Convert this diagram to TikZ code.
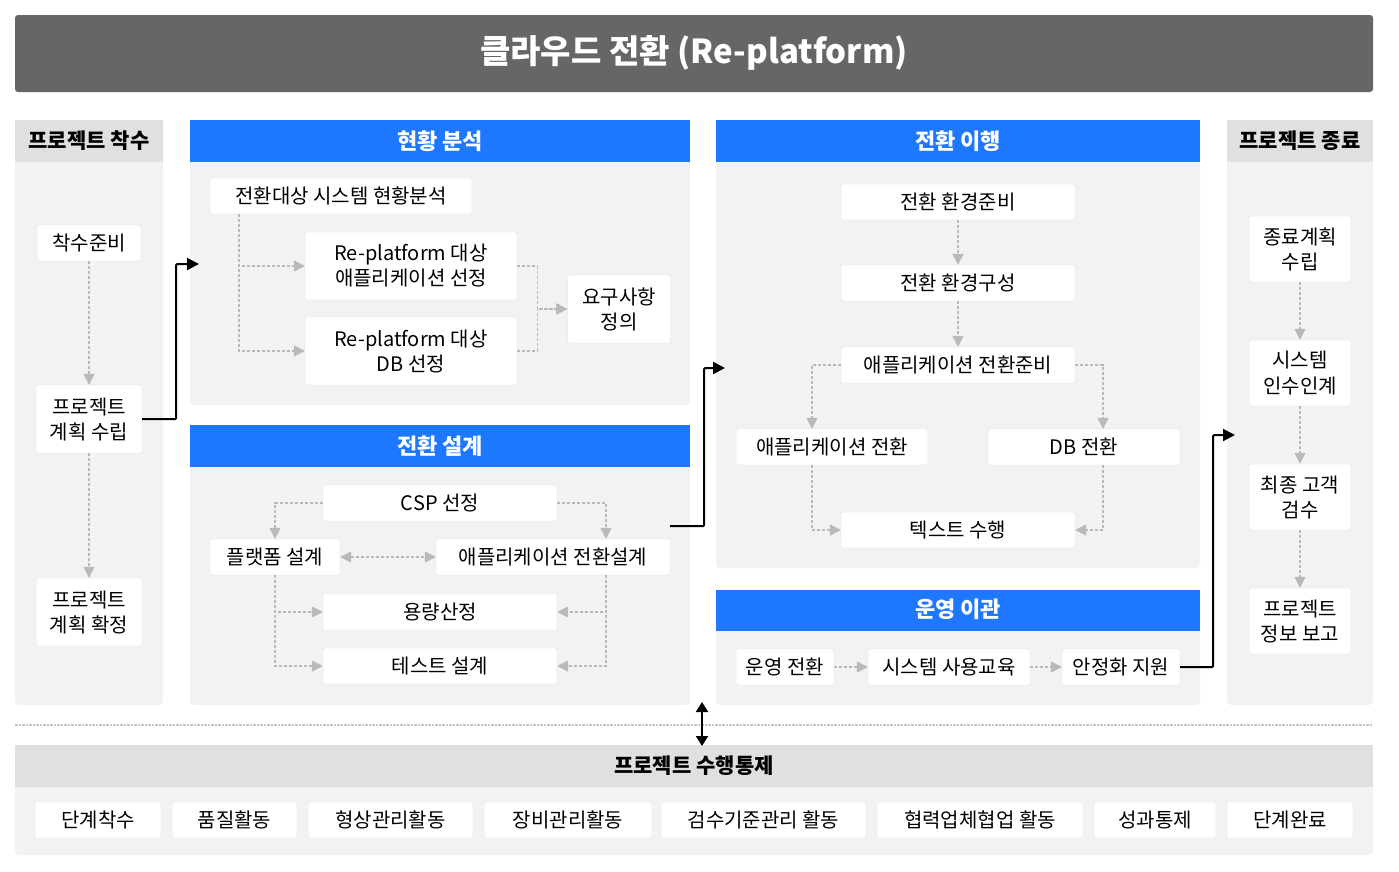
\documentclass[tikz,border=0pt]{standalone}
\usepackage{fontspec}
\setmainfont{Noto Sans CJK KR}
\usetikzlibrary{arrows.meta,positioning}
\definecolor{hdblue}{HTML}{1E78FF}
\definecolor{panelbg}{HTML}{F2F2F2}
\definecolor{hdgray}{HTML}{E0E0E0}
\definecolor{titlegray}{HTML}{666666}
\tikzset{
    box/.style={
        rectangle,
        draw=gray!25,
        fill=white,
        rounded corners=2,
        inner sep=0,
        minimum height=36,
        font=\fontsize{20}{25}\selectfont,
        align=center
    },
    conn/.style={
        draw=gray!55,
        densely dashed,
        line width=1.3,
        -{Triangle[width=11,length=11,fill=gray!55]}
    },
    flow/.style={
        draw=black,
        line width=2,
        -{Triangle[width=12,length=12]}
    },
    bluehead/.style={fill=hdblue},
    headtxt/.style={text=white, font=\fontsize{22}{26}\selectfont\bfseries},
    grayhead/.style={fill=hdgray},
    graytxt/.style={font=\fontsize{21}{26}\selectfont\bfseries}
}
\begin{document}
\begin{tikzpicture}[x=1pt,y=-1pt]
\useasboundingbox (0,0) rectangle (1399,871);
\fill[white] (0,0) rectangle (1399,871);

% title
\fill[titlegray, rounded corners=3] (15,15) rectangle (1373,92);
\node[text=white, font=\fontsize{33}{38}\selectfont\bfseries] (title) at (694,53) {클라우드 전환 (Re-platform)};

% panels
\fill[panelbg, rounded corners=4] (15,120) rectangle (163,705);
\fill[grayhead] (15,120) rectangle (163,162);
\node[graytxt] (h1) at (89,141) {프로젝트 착수};

\fill[panelbg, rounded corners=4] (190,120) rectangle (690,405);
\fill[bluehead] (190,120) rectangle (690,162);
\node[headtxt] (h2) at (440,141) {현황 분석};

\fill[panelbg, rounded corners=4] (190,425) rectangle (690,705);
\fill[bluehead] (190,425) rectangle (690,467);
\node[headtxt] (h3) at (440,446) {전환 설계};

\fill[panelbg, rounded corners=4] (716,120) rectangle (1200,568);
\fill[bluehead] (716,120) rectangle (1200,162);
\node[headtxt] (h4) at (958,141) {전환 이행};

\fill[panelbg, rounded corners=4] (716,590) rectangle (1200,705);
\fill[bluehead] (716,590) rectangle (1200,631);
\node[headtxt] (h5) at (958,609) {운영 이관};

\fill[panelbg, rounded corners=4] (1227,120) rectangle (1373,705);
\fill[grayhead] (1227,120) rectangle (1373,162);
\node[graytxt] (h6) at (1300,141) {프로젝트 종료};

\draw[gray!45, densely dotted, line width=2.5] (15,725) -- (1373,725);

\fill[panelbg, rounded corners=4] (15,745) rectangle (1373,855);
\fill[hdgray] (15,745) rectangle (1373,787);
\node[font=\fontsize{21}{26}\selectfont\bfseries] (h7) at (694,766) {프로젝트 수행통제};

% project start
\node[box, minimum width=104] (ready) at (89,243) {착수준비};
\node[box, minimum width=106, minimum height=68] (plan) at (89,419) {프로젝트\\계획 수립};
\node[box, minimum width=106, minimum height=68] (fix) at (89,612) {프로젝트\\계획 확정};
\draw[conn] (ready) -- (plan);
\draw[conn] (plan) -- (fix);

% analysis
\node[box, minimum width=262] (cur) at (341,196) {전환대상 시스템 현황분석};
\node[box, minimum width=212, minimum height=68] (selapp) at (411,266) {Re-platform 대상\\애플리케이션 선정};
\node[box, minimum width=212, minimum height=68] (seldb) at (411,351) {Re-platform 대상\\DB 선정};
\node[box, minimum width=103, minimum height=68] (req) at (619,309) {요구사항\\정의};
\draw[conn] ([xshift=-102]cur.south) |- (selapp.west);
\draw[conn] ([xshift=-102]cur.south) |- (seldb.west);
\draw[conn] (selapp.east) -- ++(20,0) |- (req.west);
\draw[conn] (seldb.east) -- ++(20,0) |- (req.west);

% design
\node[box, minimum width=234] (csp) at (440,503) {CSP 선정};
\node[box, minimum width=130] (plat) at (275,557) {플랫폼 설계};
\node[box, minimum width=234] (appdes) at (553,557) {애플리케이션 전환설계};
\node[box, minimum width=234] (capa) at (440,612) {용량산정};
\node[box, minimum width=234] (testdes) at (440,666) {테스트 설계};
\draw[conn] (csp.west) -| (plat.north);
\draw[conn] (csp.east) -| ([xshift=53]appdes.north);
\draw[conn, {Triangle[width=11,length=11,fill=gray!55]}-{Triangle[width=11,length=11,fill=gray!55]}] (plat.east) -- (appdes.west);
\draw[conn] (plat.south) |- (capa.west);
\draw[conn] (plat.south) |- (testdes.west);
\draw[conn] ([xshift=53]appdes.south) |- (capa.east);
\draw[conn] ([xshift=53]appdes.south) |- (testdes.east);

% execution
\node[box, minimum width=234] (envprep) at (958,202) {전환 환경준비};
\node[box, minimum width=234] (envconf) at (958,283) {전환 환경구성};
\node[box, minimum width=234] (appprep) at (958,365) {애플리케이션 전환준비};
\node[box, minimum width=192] (appconv) at (832,447) {애플리케이션 전환};
\node[box, minimum width=192] (dbconv) at (1084,447) {DB 전환};
\node[box, minimum width=234] (testrun) at (958,530) {텍스트 수행};
\draw[conn] (envprep) -- (envconf);
\draw[conn] (envconf) -- (appprep);
\draw[conn] (appprep.west) -| ([xshift=-20]appconv.north);
\draw[conn] (appprep.east) -| ([xshift=19]dbconv.north);
\draw[conn] ([xshift=-20]appconv.south) |- (testrun.west);
\draw[conn] ([xshift=19]dbconv.south) |- (testrun.east);

% operation
\node[box, minimum width=98] (opconv) at (785,667) {운영 전환};
\node[box, minimum width=162] (edu) at (949,667) {시스템 사용교육};
\node[box, minimum width=118] (stab) at (1121,667) {안정화 지원};
\draw[conn] (opconv) -- (edu);
\draw[conn] (edu) -- (stab);

% project end
\node[box, minimum width=102, minimum height=66] (endplan) at (1300,249) {종료계획\\수립};
\node[box, minimum width=102, minimum height=66] (handover) at (1300,373) {시스템\\인수인계};
\node[box, minimum width=102, minimum height=66] (accept) at (1300,497) {최종 고객\\검수};
\node[box, minimum width=102, minimum height=66] (report) at (1300,621) {프로젝트\\정보 보고};
\draw[conn] (endplan) -- (handover);
\draw[conn] (handover) -- (accept);
\draw[conn] (accept) -- (report);

% phase flow
\coordinate (anain) at (199,264);
\coordinate (exein) at (725,368);
\coordinate (endin) at (1235,435);
\draw[flow, rounded corners=1] (plan.east) -- ++(34,0) |- (anain);
\draw[flow, rounded corners=1] ([yshift=31]appdes.east) -- ++(34,0) |- (exein);
\draw[flow, rounded corners=1] (stab.east) -- ++(33,0) |- (endin);
\coordinate (ctltop) at (702,702);
\coordinate (ctlbot) at (702,746);
\draw[draw=black, line width=2, {Triangle[width=12,length=10]}-{Triangle[width=12,length=10]}] (ctltop) -- (ctlbot);

% control
\foreach \name/\xa/\xb/\txt in {c1/35/161/단계착수, c2/172/297/품질활동, c3/308/473/형상관리활동, c4/484/652/장비관리활동, c5/661/866/검수기준관리 활동, c6/877/1083/협력업체협업 활동, c7/1094/1216/성과통제, c8/1227/1353/단계완료}
    \node[box, minimum width=\xb-\xa] (\name) at ({(\xa+\xb)/2},820) {\txt};

\end{tikzpicture}
\end{document}
